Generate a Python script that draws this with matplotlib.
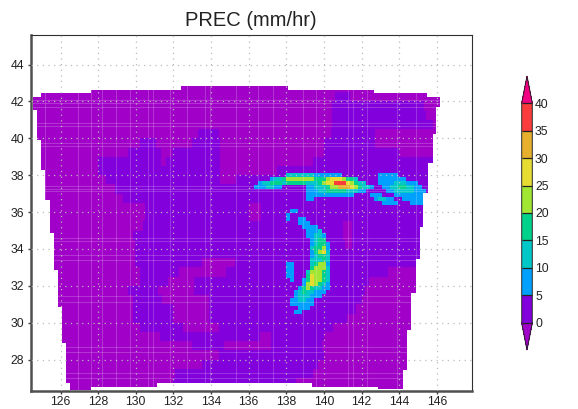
# -*- coding: utf-8 -*-
import numpy as np
import matplotlib
matplotlib.use('Agg')
import matplotlib.pyplot as plt
from matplotlib.colors import ListedColormap, BoundaryNorm
from matplotlib.patches import Polygon

plt.rcParams['font.family'] = ['Liberation Sans', 'DejaVu Sans']

# model domain outline (lon, lat), stair steps of the lat/lon grid
outline_lon = [124.53, 124.95, 124.95, 127.61, 127.61, 132.39, 132.39, 138.07, 138.07, 142.68, 142.68,
               145.49, 145.49, 146.18, 146.18, 145.97, 145.97, 145.81, 145.81, 145.55, 145.55, 145.28,
               145.28, 145.10, 145.10, 144.89, 144.89, 144.65, 144.65, 144.43, 144.43, 144.22, 144.22,
               142.90, 142.90, 139.39, 139.39, 131.11, 131.11, 127.61, 127.61, 126.49, 126.49, 126.28,
               126.28, 126.07, 126.07, 125.86, 125.86, 125.64, 125.64, 125.43, 125.43, 125.18, 125.18,
               124.95, 124.95, 124.74, 124.74, 124.53]
outline_lat = [42.26, 42.26, 42.43, 42.43, 42.62, 42.62, 42.81, 42.81, 42.64, 42.64, 42.45,
               42.45, 42.24, 42.24, 41.72, 41.72, 40.25, 40.25, 38.68, 38.68, 37.05, 37.05,
               35.20, 35.20, 33.47, 33.47, 31.62, 31.62, 29.61, 29.61, 27.44, 27.44, 26.41,
               26.41, 26.54, 26.54, 26.74, 26.74, 26.54, 26.54, 26.37, 26.37, 26.74, 26.74,
               28.91, 28.91, 30.88, 30.88, 32.87, 32.87, 34.88, 34.88, 36.67, 36.67, 38.26,
               38.26, 39.93, 39.93, 41.56, 41.56]

# 0-5 mm/hr areas per 0.5 deg latitude band, everything else in the domain is below 0
band_south = [42.5, 42.0, 41.5, 41.0, 40.5, 40.0, 39.5, 39.0, 38.5, 38.0, 37.5, 37.0, 36.5, 36.0, 35.5, 35.0,
              34.5, 34.0, 33.5, 33.0, 32.5, 32.0, 31.5, 31.0, 30.5, 30.0, 29.5, 29.0, 28.5, 28.0, 27.5, 27.0,
              26.5, 26.0]
light_spans = [
    [],
    [(140.6, 141.4)],
    [(140.47, 145.3)],
    [(140.47, 145.4)],
    [(140.47, 145.8)],
    [(133.3, 134.4), (140.4, 142.7)],
    [(130.2, 131.1), (133.0, 134.5), (140.0, 142.7)],
    [(129.6, 131.36), (131.9, 134.5), (140.0, 144.0)],
    [(128.0, 131.36), (131.6, 134.5), (139.4, 146.5)],
    [(128.0, 134.5), (137.5, 146.5)],
    [(128.4, 134.5), (135.3, 146.5)],
    [(128.9, 146.5)],
    [(129.3, 146.5)],
    [(130.5, 136.0), (136.65, 146.5)],
    [(130.5, 136.0), (136.65, 146.5)],
    [(130.4, 141.0), (141.5, 146.5)],
    [(129.85, 141.0), (141.5, 146.5)],
    [(129.95, 141.1), (141.5, 146.5)],
    [(129.95, 146.5)],
    [(129.95, 133.5), (135.25, 146.5)],
    [(130.2, 132.3), (134.8, 143.4)],
    [(130.2, 131.7), (133.1, 142.4)],
    [(129.6, 131.2), (133.1, 142.2)],
    [(129.85, 131.4), (133.9, 142.0)],
    [(129.85, 132.0), (133.9, 141.7)],
    [(129.85, 132.0), (133.9, 141.2)],
    [(130.2, 132.5), (134.4, 140.5)],
    [(131.3, 136.6), (137.2, 140.0)],
    [(133.0, 134.7), (137.2, 139.9)],
    [(134.4, 140.0)],
    [(133.5, 139.7)],
    [(132.1, 139.4)],
    [(132.0, 138.5)],
    [],
]

# rain cells: (row from 39.4N going south, column from 135E going east, class digits)
rain_cells = [
    (6, 14, '2222222'), (6, 21, '11'), (6, 23, '11111'), (6, 37, '11111'),
    (7, 10, '1223'), (7, 14, '4444444'), (7, 21, '333'), (7, 24, '4555'), (7, 28, '4332'), (7, 37, '1111111'),
    (8, 7, '1223332'), (8, 14, '333332'), (8, 20, '2234'), (8, 24, '55777'), (8, 29, '54322'), (8, 37, '1111222111'),
    (9, 6, '1112211'), (9, 19, '11222344'), (9, 27, '6665'), (9, 31, '4322'), (9, 35, '1'), (9, 38, '1122332211'),
    (10, 19, '1112'), (10, 23, '23333322'), (10, 31, '211'), (10, 39, '1122222111'),
    (11, 19, '111111111111'), (11, 35, '111'), (11, 41, '11111111'),
    (12, 19, '11'), (12, 36, '12211'), (12, 43, '111111'),
    (13, 38, '1111'), (13, 45, '1111'),
    (15, 15, '11'), (16, 14, '1'), (17, 14, '1'),
    (17, 17, '11'), (18, 17, '111'), (19, 18, '1111'), (20, 19, '1112'),
    (21, 19, '11221'), (22, 20, '1233'), (23, 20, '12331'), (24, 20, '23341'),
    (25, 20, '13452'), (26, 20, '12332'), (27, 20, '22232'),
    (28, 14, '11'), (28, 20, '23441'), (29, 14, '11'), (29, 20, '34442'),
    (30, 14, '11'), (30, 19, '244432'), (31, 14, '11'), (31, 19, '354432'),
    (32, 15, '1'), (32, 18, '1354432'), (33, 18, '1454321'),
    (34, 17, '13432211'), (35, 16, '12322111'), (36, 16, '1222111'),
    (37, 15, '112211'), (38, 15, '111111'), (39, 17, '111'), (40, 16, '11'),
]
class_values = [0, 7.5, 12.5, 17.5, 22.5, 27.5, 32.5, 37.5]

# thin light seams across the field
seam_lon = [125.16, 126.93, 127.6, 128.2, 128.97, 129.7, 130.65, 130.91, 131.8, 132.7, 133.66, 133.92, 135.3,
            136.49, 137.3, 138.88, 139.59, 141.27, 141.53, 142.3, 143.9, 144.9]
seam_lat = [42.1, 41.9, 41.7, 40.83, 40.65, 39.75, 39.6, 37.4, 37.25, 37.12, 34.59, 34.41, 33.69, 33.42,
            31.43, 31.15, 28.71, 28.44, 27.27, 27.0]

levels = [0, 5, 10, 15, 20, 25, 30, 35, 40]
colors = ['#8200dc', '#00a0ff', '#00c8c8', '#00d28c', '#a0e632', '#e6dc32', '#e6af2d', '#fa3c3c']
cmap = ListedColormap(colors)
cmap.set_under('#a000c8')
cmap.set_over('#f00082')
norm = BoundaryNorm(levels, cmap.N)

fig = plt.figure(figsize=(5.78, 4.09), dpi=100)
ax = fig.add_axes([31 / 578, 1 - 391 / 409, 441 / 578, 356 / 409])

# base field
lon_edges = np.arange(124.5, 146.55, 0.05)
lat_edges = np.array([43.0] + band_south)
lon_mid = 0.5 * (lon_edges[:-1] + lon_edges[1:])
base = np.full((len(band_south), len(lon_mid)), -1.0)
for i, spans in enumerate(light_spans):
    for west, east in spans:
        base[i, (lon_mid >= west) & (lon_mid < east)] = 2.5
domain = Polygon(np.column_stack([outline_lon, outline_lat]), transform=ax.transData,
                 facecolor='none', edgecolor='none')
ax.add_patch(domain)
mesh = ax.pcolormesh(lon_edges, lat_edges, base, cmap=cmap, norm=norm, shading='flat', zorder=1)
mesh.set_clip_path(domain)

# rain bands on a finer grid
dlon, dlat = 0.2123, 0.2172
rain = np.ma.masked_all((42, 55))
for row, col, digits in rain_cells:
    for k, d in enumerate(digits):
        rain[row, col + k] = class_values[int(d)]
rain_lon = 135.0 + dlon * np.arange(56)
rain_lat = 39.4 - dlat * np.arange(43)
rmesh = ax.pcolormesh(rain_lon, rain_lat, rain, cmap=cmap, norm=norm, shading='flat', zorder=2)
rmesh.set_clip_path(domain)

for lo in seam_lon:
    ln = ax.axvline(lo, color='white', lw=0.8, alpha=0.2, zorder=3)
    ln.set_clip_path(domain)
for la in seam_lat:
    ln = ax.axhline(la, color='white', lw=0.8, alpha=0.2, zorder=3)
    ln.set_clip_path(domain)

ax.set_xlim(124.43, 147.87)
ax.set_ylim(26.3, 45.6)
ax.set_xticks(np.arange(126, 148, 2))
ax.set_yticks(np.arange(28, 46, 2))
ax.grid(True, color='#bcbcbc', linestyle=(0, (1, 3.5)), linewidth=0.9, zorder=4)
ax.set_axisbelow(False)
ax.tick_params(axis='x', length=2.4, width=1, color='#404040', labelsize=8.8, pad=1, labelcolor='#222222')
ax.tick_params(axis='y', length=2.4, width=1, color='#404040', labelsize=8.8, pad=2.5, labelcolor='#222222')
for side in ['left', 'bottom']:
    ax.spines[side].set_linewidth(1.8)
    ax.spines[side].set_color('#505050')
for side in ['top', 'right']:
    ax.spines[side].set_linewidth(0.8)
    ax.spines[side].set_color('#303030')

fig.text(251 / 578, 1 - 21 / 409, 'PREC (mm/hr)', ha='center', va='center', fontsize=14.5, color='#222222')

# colour key, the arrows sit inside the key axes
cax = fig.add_axes([521.7 / 578, 1 - 350 / 409, 10.6 / 578, 274 / 409])
cb = fig.colorbar(mesh, cax=cax, extend='both', extendfrac=0.123, ticks=levels, drawedges=True, spacing='uniform')
cb.dividers.set_color('#222222')
cb.dividers.set_linewidth(0.9)
cb.outline.set_edgecolor('#222222')
cb.outline.set_linewidth(0.7)
cax.tick_params(length=0, labelsize=8.8, pad=2, labelcolor='#222222')

fig.savefig('out.png', dpi=100)
plt.close()
